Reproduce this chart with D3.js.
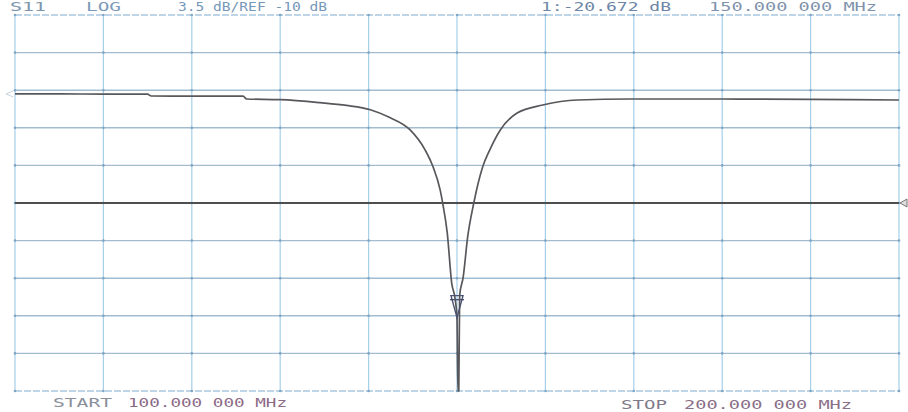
<!DOCTYPE html>
<html><head><meta charset="utf-8">
<script src="https://cdn.jsdelivr.net/npm/d3@7"></script>
<style>body{margin:0;background:#fff}svg{display:block}</style>
</head><body>
<svg id="c" width="908" height="412"></svg>
<script>
// Data (S11, LOG, 3.5 dB/div, REF -10 dB)
const freqMHz = [100, 105, 110, 115, 115.4, 120, 125.8, 126.2, 130, 134.5, 137.5, 140.2, 142.4, 144.7, 146.4, 147.3, 148.1, 148.4, 148.9, 149.4, 149.8, 150.0, 150.1, 150.2, 150.3, 150.7, 151.2, 151.9, 152.9, 153.7, 154.9, 156.8, 159.7, 163.6, 169.6, 180, 190, 200];
const s11dB   = [0.15, 0.15, 0.14, 0.13, -0.04, -0.05, -0.06, -0.32, -0.38, -0.66, -0.92, -1.32, -2.05, -3.2, -5.07, -6.65, -8.8, -10.1, -12.8, -17.45, -19.0, -20.672, -34, -34, -18.6, -16.9, -13.2, -10.0, -6.65, -5.07, -3.2, -1.62, -0.88, -0.41, -0.32, -0.32, -0.36, -0.41];
const headerTexts = ["S11", "LOG", "3.5 dB/REF -10 dB", "1:-20.672 dB", "150.000 000 MHz"];
const startLabel = ["START", "100.000 000 MHz"];
const stopLabel = ["STOP", "200.000 000 MHz"];
const refDB = -10, scaleDB = 3.5, markerF = 150.0, markerDB = -20.672;
const fStart = 100, fStop = 200;

const svg = d3.select("#c");
const L = 15, R = 899, T = 15, B = 391;
const x = d3.scaleLinear().domain([fStart, fStop]).range([L, R]);
const y = d3.scaleLinear().domain([refDB - 5 * scaleDB, refDB + 5 * scaleDB]).range([B, T]);

const g = svg.append("g");
const xt = d3.range(0, 11).map(i => fStart + i * (fStop - fStart) / 10);
const yt = d3.range(0, 11).map(i => refDB - 5 * scaleDB + i * scaleDB);

// grid
g.selectAll("line.v").data(xt).join("line")
  .attr("x1", d => x(d)).attr("x2", d => x(d)).attr("y1", T).attr("y2", B)
  .attr("stroke", "#a6cfe9").attr("stroke-width", 1.2);
g.selectAll("line.h").data(yt).join("line")
  .attr("y1", d => y(d)).attr("y2", d => y(d)).attr("x1", L).attr("x2", R)
  .attr("stroke", (d, i) => (i === 0 || i === 10) ? "#a8c8df" : "#a2bdd2")
  .attr("stroke-width", 1.4)
  .attr("stroke-dasharray", (d, i) => (i === 10 || i === 0) ? "7,2" : null);
// intersection dots
const pts = [];
xt.forEach(a => yt.forEach(b => pts.push([a, b])));
g.selectAll("circle.p").data(pts).join("circle")
  .attr("cx", d => x(d[0])).attr("cy", d => y(d[1])).attr("r", 1.3)
  .attr("fill", "#7fa6c4");

// reference line
g.append("line").attr("x1", L).attr("x2", R).attr("y1", y(refDB)).attr("y2", y(refDB))
  .attr("stroke", "#4e4e4e").attr("stroke-width", 1.8);
// ref triangle right
const ry = y(refDB);
g.append("path").attr("d", `M${R + 1},${ry} L${R + 8},${ry - 4} L${R + 8},${ry + 4} Z`)
  .attr("fill", "#ddd").attr("stroke", "#777").attr("stroke-width", 1);

// trace
const ymin = y.domain()[0], ymax = y.domain()[1];
const line = d3.line().curve(d3.curveMonotoneX)
  .x(d => x(d[0])).y(d => y(Math.max(ymin, Math.min(ymax, d[1]))));
const data = freqMHz.map((f, i) => [f, s11dB[i]]);
g.append("path").datum(data).attr("d", line)
  .attr("fill", "none").attr("stroke", "#58585c").attr("stroke-width", 1.7)
  .attr("stroke-linejoin", "round");
// left start marker
const ly = y(s11dB[0]);
g.append("path").attr("d", `M${L - 2},${ly - 3} L${L - 9},${ly} L${L - 2},${ly + 3}`)
  .attr("fill", "none").attr("stroke", "#c8d4dc").attr("stroke-width", 1);

// marker
const mx = x(markerF), my = y(markerDB);
g.append("path").attr("d", `M${mx},${my} L${mx - 6},${my - 22} L${mx + 6},${my - 22} Z`)
  .attr("fill", "none").attr("stroke", "#4a5270").attr("stroke-width", 1.4);
g.append("line").attr("x1", mx - 7).attr("x2", mx + 7).attr("y1", my - 18).attr("y2", my - 18)
  .attr("stroke", "#4a5270").attr("stroke-width", 1.4);

// text
const font = "'DejaVu Sans Mono', monospace";
const hdr = [
  {t: headerTexts[0], x: 10, w: 36, c: "#7d95ad"},
  {t: headerTexts[1], x: 86, w: 35, c: "#7b9ab8"},
  {t: headerTexts[2], x: 178, w: 149, c: "#7597b8"},
  {t: headerTexts[3], x: 541, w: 130, c: "#6d86a6"},
  {t: headerTexts[4], x: 709, w: 168, c: "#7f93ad"}
];
svg.selectAll("text.h").data(hdr).join("text")
  .attr("x", d => d.x).attr("y", 11).attr("textLength", d => d.w).attr("lengthAdjust", "spacingAndGlyphs")
  .attr("font-family", font).attr("font-size", 12).attr("fill", d => d.c).text(d => d.t);

const bot = [
  {t: startLabel[0], x: 53, w: 59, c: "#8a8f9c"},
  {t: startLabel[1], x: 128, w: 159, c: "#8c6a86"},
  {t: stopLabel[0], x: 621, w: 46, c: "#7f7a88"},
  {t: stopLabel[1], x: 684, w: 168, c: "#8a6f88"}
];
svg.selectAll("text.b").data(bot).join("text")
  .attr("x", d => d.x).attr("y", (d, i) => i < 2 ? 407 : 409).attr("textLength", d => d.w).attr("lengthAdjust", "spacingAndGlyphs")
  .attr("font-family", font).attr("font-size", 13).attr("fill", d => d.c).text(d => d.t);
</script>
</body></html>
